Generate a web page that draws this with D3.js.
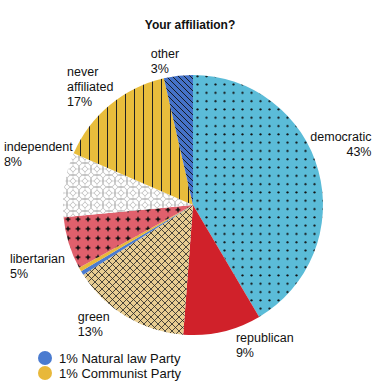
<!DOCTYPE html>
<html>
<head>
<meta charset="utf-8">
<script src="https://cdn.jsdelivr.net/npm/d3@7"></script>
<style>
  body { margin: 0; background: #fff; }
  text { font-family: "Liberation Sans", Arial, sans-serif; fill: #111; }
</style>
</head>
<body>
<div id="chart"></div>
<script>
// slice names, clockwise from 12 o'clock
var parties = ["democratic", "republican", "green", "Natural law Party", "Communist Party",
               "libertarian", "independent", "never affiliated", "other"];
// share of the circle each slice covers
var shares = [41.5, 9.7, 14.8, 0.5, 0.5, 6.5, 8.0, 14.9, 3.6];
// percentages printed in the labels
var shownPct = ["43%", "9%", "13%", "1%", "1%", "5%", "8%", "17%", "3%"];
// slices that only appear in the legend
var legendOnly = ["Natural law Party", "Communist Party"];

var width = 385, height = 387;
var cx = 193, cy = 205, radius = 130;

var fills = {
  "democratic": "#5bbcd8",
  "republican": "#d0212a",
  "green": "#e8cd92",
  "Natural law Party": "#4a7bd0",
  "Communist Party": "#e8b83a",
  "libertarian": "#e0606c",
  "independent": "#ffffff",
  "never affiliated": "#e8bd3c",
  "other": "#4572c8"
};

// where each outside label sits: angle (deg, clockwise from top) and distance of its box centre
var labelSpot = {
  "democratic": [67.6, 160, "end"],
  "republican": [152.8, 157, "start"],
  "green": [219.8, 155, "start"],
  "libertarian": [248.6, 167, "start"],
  "independent": [288.4, 163, "start"],
  "never affiliated": [319.1, 157, "start"],
  "other": [349, 147, "start"]
};

var svg = d3.select("#chart").append("svg")
    .attr("width", width)
    .attr("height", height);

var defs = svg.append("defs");

function pattern(id, w, h, base) {
  var p = defs.append("pattern")
      .attr("id", id)
      .attr("patternUnits", "userSpaceOnUse")
      .attr("width", w)
      .attr("height", h);
  p.append("rect").attr("width", w).attr("height", h).attr("fill", base);
  return p;
}

// dots
var pd = pattern("p-dem", 9, 8.3, fills["democratic"]);
pd.append("circle").attr("cx", 4.5).attr("cy", 4).attr("r", 1.1).attr("fill", "#111");

// crosshatch
var pg = pattern("p-green", 7, 7, fills["green"]);
pg.append("path").attr("d", "M0,0L7,7M7,0L0,7M-1,6L1,8M6,-1L8,1M-1,1L1,-1M6,8L8,6")
    .attr("stroke", "#222").attr("stroke-width", 0.8);

// 4-point stars
var pl = pattern("p-lib", 10, 9.5, fills["libertarian"]);
pl.append("path").attr("transform", "translate(5,4.75)")
    .attr("d", "M0,-3.2L1,-1L3.2,0L1,1L0,3.2L-1,1L-3.2,0L-1,-1Z")
    .attr("fill", "#111");

// overlapping circles
var pi = pattern("p-ind", 12, 12, "#fff");
[[0, 0], [12, 0], [0, 12], [12, 12], [6, 6]].forEach(function(c) {
  pi.append("circle").attr("cx", c[0]).attr("cy", c[1]).attr("r", 6.5)
      .attr("fill", "none").attr("stroke", "#9a9a9a").attr("stroke-width", 0.6);
});

// vertical lines
var pn = pattern("p-never", 9, 9, fills["never affiliated"]);
pn.append("line").attr("x1", 4.5).attr("x2", 4.5).attr("y1", 0).attr("y2", 9)
    .attr("stroke", "#222").attr("stroke-width", 1);

// diagonal lines
var po = pattern("p-other", 6, 6, fills["other"]);
po.append("path").attr("d", "M0,0L6,6M-1,5L1,7M5,-1L7,1")
    .attr("stroke", "#111").attr("stroke-width", 0.9);

var fillRef = {
  "democratic": "url(#p-dem)",
  "green": "url(#p-green)",
  "libertarian": "url(#p-lib)",
  "independent": "url(#p-ind)",
  "never affiliated": "url(#p-never)",
  "other": "url(#p-other)"
};

var rows = parties.map(function(p, i) {
  return { name: p, share: shares[i], pct: shownPct[i] };
});

var pie = d3.pie()
    .sort(null)
    .value(function(d) { return d.share; });

var arc = d3.arc()
    .innerRadius(0)
    .outerRadius(radius);

var g = svg.append("g")
    .attr("transform", "translate(" + cx + "," + cy + ")");

g.selectAll("path.slice")
    .data(pie(rows))
    .enter()
    .append("path")
    .attr("class", "slice")
    .attr("d", arc)
    .attr("fill", function(d) { return fillRef[d.data.name] || fills[d.data.name]; });

// title
svg.append("text")
    .attr("x", 190)
    .attr("y", 29)
    .attr("text-anchor", "middle")
    .style("font-size", "12px")
    .style("font-weight", "bold")
    .text("Your affiliation?");

// outside labels
var lineH = 15;
rows.forEach(function(d) {
  var spot = labelSpot[d.name];
  if (!spot) return;
  var a = spot[0] * Math.PI / 180;
  var bx = cx + spot[1] * Math.sin(a);
  var by = cy - spot[1] * Math.cos(a);
  var lines = d.name.split(" ").concat([d.pct]);
  var t = svg.append("text")
      .style("font-size", "12.5px")
      .attr("text-anchor", spot[2]);
  var top = by - (lines.length - 1) * lineH / 2;
  var w = 0;
  lines.forEach(function(s, i) {
    var ts = t.append("tspan").attr("x", 0).attr("y", top + i * lineH + 4.5).text(s);
    w = Math.max(w, ts.node().getComputedTextLength());
  });
  var x = spot[2] === "end" ? bx + w / 2 : bx - w / 2;
  t.selectAll("tspan").attr("x", x);
});

// legend
var legend = svg.append("g");
legendOnly.forEach(function(name, i) {
  var d = rows[parties.indexOf(name)];
  legend.append("circle")
      .attr("cx", 45)
      .attr("cy", 358 + i * 15)
      .attr("r", 7)
      .attr("fill", fills[name]);
  legend.append("text")
      .attr("x", 59)
      .attr("y", 358 + i * 15 + 5)
      .style("font-size", "13px")
      .text(d.pct + " " + name);
});
</script>
</body>
</html>
